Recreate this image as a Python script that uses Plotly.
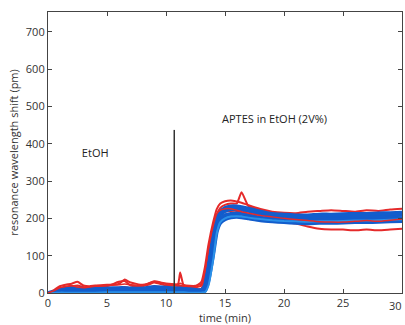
import plotly.graph_objects as go

t = [0, 0.5, 1, 1.5, 2, 2.5, 3, 3.5, 4, 5, 6, 6.5, 7, 8, 8.5, 9, 10, 11, 11.2, 11.5,
     12, 12.5, 13, 13.3, 13.6, 14, 14.3, 14.6, 15, 15.5, 16, 16.4, 17, 18, 19, 20, 21, 22, 23, 24,
     25, 26, 27, 28, 29, 30]

red1 = [0, 8, 18, 22, 25, 30, 20, 18, 20, 22, 24, 36, 28, 22, 25, 30, 24, 22, 20, 18,
        16, 18, 30, 70, 130, 190, 225, 240, 246, 248, 245, 242, 235, 225, 218, 215, 214, 218, 220, 222,
        220, 218, 222, 220, 224, 226]
red2 = [0, 5, 12, 15, 18, 20, 16, 14, 15, 18, 30, 32, 20, 18, 22, 28, 20, 22, 55, 20,
        14, 15, 20, 50, 110, 175, 210, 228, 236, 240, 240, 270, 232, 222, 212, 205, 200, 198, 200, 198,
        200, 202, 200, 204, 206, 210]
red3 = [0, 3, 8, 10, 12, 14, 12, 10, 10, 12, 14, 16, 12, 10, 14, 18, 14, 16, 18, 14,
        10, 10, 12, 40, 95, 160, 195, 210, 218, 220, 220, 216, 210, 200, 195, 190, 186, 178, 172, 170,
        170, 168, 170, 168, 170, 172]
red4 = [0, 6, 14, 18, 20, 16, 14, 16, 18, 20, 22, 24, 22, 20, 26, 32, 26, 24, 26, 22,
        20, 20, 25, 60, 120, 180, 212, 222, 226, 226, 222, 218, 214, 208, 204, 200, 197, 194, 191, 190,
        190, 192, 194, 192, 195, 198]

blue1 = [0, 2, 5, 7, 8, 8, 7, 7, 8, 8, 9, 9, 8, 8, 9, 10, 9, 8, 8, 8,
         7, 6, 6, 15, 60, 140, 190, 210, 220, 225, 226, 224, 220, 212, 206, 204, 202, 202, 204, 204,
         205, 206, 206, 207, 208, 210]
blue2 = [0, 1, 3, 4, 5, 5, 5, 5, 6, 6, 6, 6, 6, 6, 7, 8, 7, 6, 6, 6,
         5, 4, 4, 10, 45, 120, 175, 198, 208, 212, 213, 212, 208, 202, 198, 196, 194, 194, 195, 196,
         196, 197, 197, 198, 199, 200]
blue3 = [0, 3, 8, 10, 12, 12, 11, 10, 11, 12, 13, 13, 12, 12, 14, 16, 14, 12, 12, 11,
         10, 8, 8, 20, 70, 150, 198, 218, 228, 232, 232, 230, 226, 218, 212, 210, 208, 208, 210, 210,
         211, 212, 212, 213, 214, 215]
blue4 = [0, 1, 2, 2, 3, 3, 3, 3, 3, 4, 4, 4, 4, 4, 4, 5, 4, 4, 4, 4,
         3, 2, 2, 6, 35, 105, 165, 188, 198, 203, 204, 203, 200, 195, 192, 190, 188, 187, 188, 188,
         189, 190, 190, 191, 192, 193]
cyan1 = [0, 0, 1, 1, 1, 1, 1, 1, 1, 2, 2, 2, 2, 2, 2, 2, 2, 2, 2, 2,
         1, 1, 1, 2, 20, 90, 160, 190, 200, 205, 206, 205, 202, 198, 195, 193, 192, 191, 192, 192,
         193, 194, 194, 195, 196, 197]

marker_t = [10.7, 10.7]
marker_y = [0, 437]

labels = ["EtOH", "APTES in EtOH (2V%)"]
label_t = [4.0, 19.2]
label_y = [372, 464]

xticks = [0, 5, 10, 15, 20, 25, 30]
yticks = [0, 100, 200, 300, 400, 500, 600, 700]

fig = go.Figure()
for s in [red1, red2, red3]:
    fig.add_trace(go.Scatter(x=t, y=s, mode="lines",
                             line=dict(color="#e52a2a", width=2, shape="spline", smoothing=0.5),
                             hoverinfo="skip"))
for s in [blue1, blue3, blue2, blue4]:
    fig.add_trace(go.Scatter(x=t, y=s, mode="lines",
                             line=dict(color="#125dcc", width=4, shape="spline", smoothing=0.5),
                             hoverinfo="skip"))
fig.add_trace(go.Scatter(x=t, y=cyan1, mode="lines",
                         line=dict(color="#2a90e8", width=2, shape="spline", smoothing=0.5),
                         hoverinfo="skip"))
fig.add_trace(go.Scatter(x=t, y=red4, mode="lines",
                         line=dict(color="#e52a2a", width=1.5, shape="spline", smoothing=0.5),
                         hoverinfo="skip"))
fig.add_trace(go.Scatter(x=marker_t, y=marker_y, mode="lines",
                         line=dict(color="#333333", width=1.5), hoverinfo="skip"))
fig.add_trace(go.Scatter(x=label_t, y=label_y, mode="text", text=labels,
                         textfont=dict(size=11, color="#222222", family="Open Sans"),
                         hoverinfo="skip"))

axis_common = dict(showline=True, linecolor="#444444", linewidth=1.2, mirror="ticks",
                   ticks="inside", ticklen=4, tickcolor="#444444", showgrid=False,
                   zeroline=False, tickfont=dict(size=11, color="#333333"))
fig.update_layout(
    width=405, height=325,
    margin=dict(l=48, r=3, t=12, b=32),
    paper_bgcolor="white", plot_bgcolor="white",
    showlegend=False,
    font=dict(family="Open Sans", size=11, color="#333333"),
    xaxis=dict(range=[0, 30], tickvals=xticks,
               title=dict(text="time (min)", standoff=2, font=dict(size=11)), **axis_common),
    yaxis=dict(range=[0, 753], tickvals=yticks,
               title=dict(text="resonance wavelength shift (pm)", standoff=4, font=dict(size=11)),
               **axis_common),
)
# last x tick label, kept inside the page right edge
fig.add_annotation(x=xticks[-1], y=0, xref="x", yref="y", text=str(xticks[-1]),
                   showarrow=False, yanchor="top", xanchor="right", xshift=2, yshift=-3,
                   font=dict(size=11, color="#333333"))
fig.write_html("out.html")
